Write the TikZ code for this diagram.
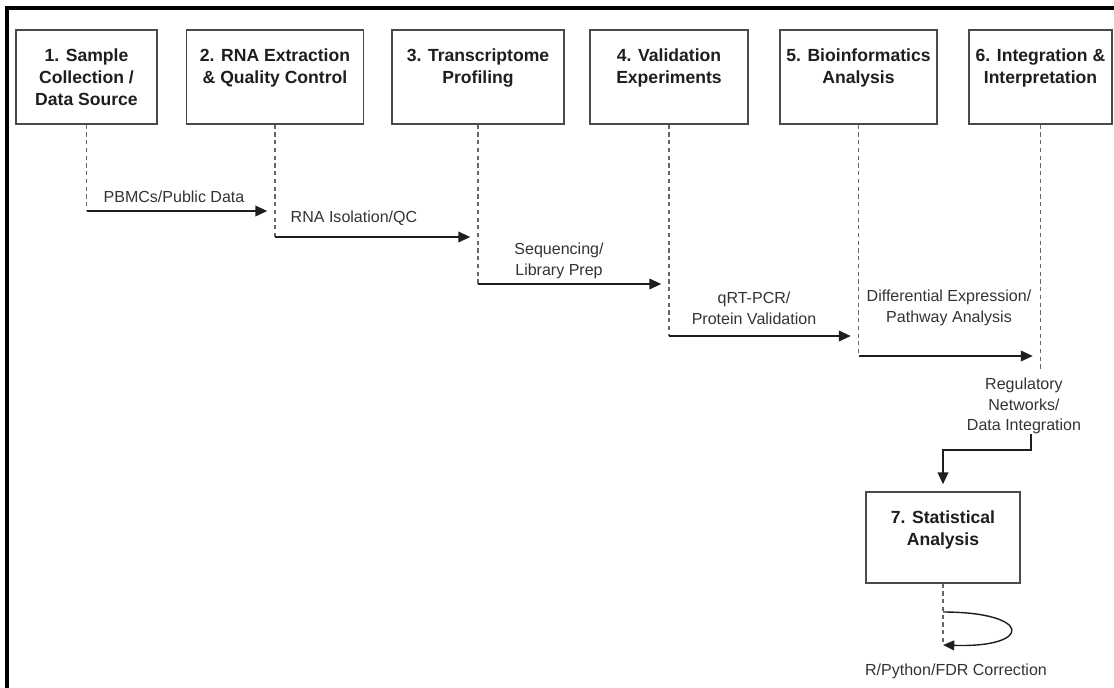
\documentclass[tikz,border=0pt]{standalone}
\usepackage{fontspec}
\setmainfont{Liberation Sans}
\usetikzlibrary{positioning, arrows.meta}

\definecolor{edge}{HTML}{4A4A4A}
\definecolor{life}{HTML}{666666}
\definecolor{ink}{HTML}{1E1E1E}
\definecolor{txt}{HTML}{333333}

\begin{document}
\begin{tikzpicture}[x=0.025cm, y=-0.025cm,
  stagebox/.style={draw=edge, line width=1pt, minimum height=2.35cm, inner sep=0pt},
  stagetitle/.style={align=center, inner sep=0pt, text=ink, font=\fontsize{12.5}{15.6}\selectfont\bfseries},
  msglabel/.style={align=center, inner sep=0pt, text=txt, font=\fontsize{11.4}{14.6}\selectfont},
  lifeline/.style={draw=life, line width=1.2pt, dash pattern=on 3pt off 2.5pt},
  msg/.style={draw=ink, line width=1.4pt, -{Triangle[length=8.5pt,width=7.5pt]}, shorten >=5.5pt}]

\useasboundingbox (0,0) rectangle (1114,687);
% outer frame, cut off at right and bottom
\draw[line width=2.2pt] (7,700) -- (7,8) -- (1130,8);

% Stage boxes
\node[stagebox, minimum width=3.525cm] (b1) at (86.5,77) {};
\node[stagebox, minimum width=4.425cm] (b2) at (275,77) {};
\node[stagebox, minimum width=4.3cm] (b3) at (478,77) {};
\node[stagebox, minimum width=3.95cm] (b4) at (669,77) {};
\node[stagebox, minimum width=3.925cm] (b5) at (858.5,77) {};
\node[stagebox, minimum width=3.575cm] (b6) at (1040.5,77) {};
\node[stagebox, minimum width=3.85cm, minimum height=2.275cm] (b7) at (943,537.5) {};

% Stage titles
\node[stagetitle, below=0.48cm of b1.north] (t1) {1. Sample\\Collection /\\Data Source};
\node[stagetitle, below=0.48cm of b2.north] (t2) {2. RNA Extraction\\\& Quality Control};
\node[stagetitle, below=0.48cm of b3.north] (t3) {3. Transcriptome\\Profiling};
\node[stagetitle, below=0.48cm of b4.north] (t4) {4. Validation\\Experiments};
\node[stagetitle, below=0.48cm of b5.north] (t5) {5. Bioinformatics\\Analysis};
\node[stagetitle, below=0.48cm of b6.north] (t6) {6. Integration \&\\Interpretation};
\node[stagetitle, below=0.48cm of b7.north] (t7) {7. Statistical\\Analysis};

% Lifeline ends
\coordinate (e1) at (b1.south |- 0,211);
\coordinate (e2) at (b2.south |- 0,237);
\coordinate (e3) at (b3.south |- 0,284);
\coordinate (e4) at (b4.south |- 0,336);
\coordinate (e5) at (b5.south |- 0,356);
\coordinate (e6) at (b6.south |- 0,370);
\coordinate (s7) at (b7.south |- 0,612);
\coordinate (e7) at (b7.south |- 0,645);

\draw[lifeline] (b1.south) -- (e1);
\draw[lifeline] (b2.south) -- (e2);
\draw[lifeline] (b3.south) -- (e3);
\draw[lifeline] (b4.south) -- (e4);
\draw[lifeline] (b5.south) -- (e5);
\draw[lifeline] (b6.south) -- (e6);
\draw[lifeline] (b7.south) -- (e7);

% Messages
\draw[msg] (e1) -- (e1 -| b2.south);
\draw[msg] (e2) -- (e2 -| b3.south);
\draw[msg] (e3) -- (e3 -| b4.south);
\draw[msg] (e4) -- (e4 -| b5.south);
\draw[msg] (e5) -- (e5 -| b6.south);

\node[msglabel] (m1) at (174,197) {PBMCs/Public Data};
\node[msglabel] (m2) at (354,218) {RNA Isolation/QC};
\node[msglabel] (m3) at (559,261) {Sequencing/\\Library Prep};
\node[msglabel] (m4) at (754,308) {qRT-PCR/\\Protein Validation};
\node[msglabel] (m5) at (949,308) {Differential Expression/\\Pathway Analysis};
\node[msglabel] (m6) at (1024,406) {Regulatory\\Networks/\\Data Integration};
\node[msglabel] (m7) at (956,671) {R/Python/FDR Correction};

% Hand-over to statistics, then self loop
\draw[msg, shorten >=5pt] ([xshift=0.175cm]m6.south) -- ++(0,16) -| (b7.north);
\draw[draw=ink, line width=1pt, -{Triangle[length=8pt,width=7pt]}] (s7) .. controls (1033,612) and (1033,648) .. (e7);
\end{tikzpicture}
\end{document}
